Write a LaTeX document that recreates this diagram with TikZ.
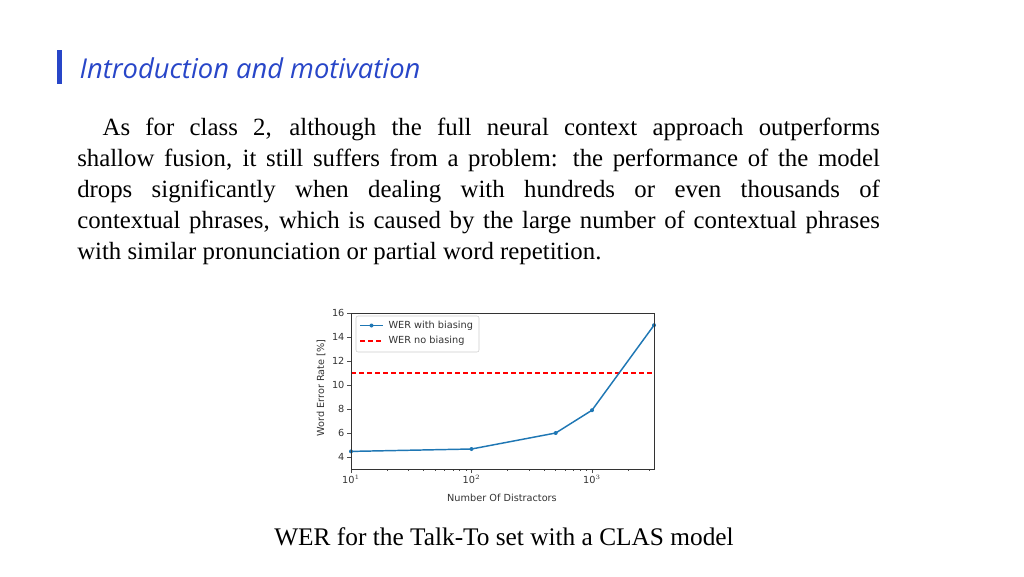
\documentclass[tikz,border=0pt]{standalone}
\usepackage{fontspec}
\setmainfont{Liberation Serif}
\newfontfamily\plotfont{DejaVu Sans}
\newfontfamily\headfont{Open Sans}
\definecolor{headblue}{RGB}{40,70,200}
\definecolor{mplblue}{RGB}{31,119,180}
\begin{document}
\begin{tikzpicture}[x=0.75pt,y=-0.75pt]
\tikzstyle{tick} = [black!70, line width=0.5pt]
\tikzstyle{ticklabel} = [font=\plotfont\fontsize{7.3}{8}\selectfont, text=black!80, inner sep=1pt]
\tikzstyle{curve} = [mplblue, line width=1.1pt]
\tikzstyle{nobias} = [red, dash pattern=on 4pt off 2pt, line width=1.1pt]
\useasboundingbox (0,0) rectangle (1024,576);
% heading
\fill[headblue] (57,50) rectangle (62,84);
\node[anchor=west, text=headblue, font=\headfont\itshape\fontsize{20.5}{22}\selectfont] (head) at (75,68) {Introduction and motivation};
% paragraph
\node[anchor=north west, text width=602pt, align=justify, inner sep=0pt,
  font=\fontsize{18.6}{23.2}\selectfont] (para) at (77,118)
 {\hspace*{19pt}As for class 2, although the full neural context approach outperforms\linebreak
 shallow fusion, it still suffers from a problem: the performance of the model\linebreak
 drops significantly when dealing with hundreds or even thousands of\linebreak
 contextual phrases, which is caused by the large number of contextual phrases\linebreak
 with similar pronunciation or partial word repetition.};
% plot frame
\coordinate (ll) at (351,469);
\coordinate (ur) at (654,313);
% y ticks
\foreach \v in {4,6,...,16} {
  \draw[tick] (351,{469-12*(\v-3)}) -- (347,{469-12*(\v-3)});
  \node[ticklabel, anchor=east] (y\v) at (346,{469-12*(\v-3)}) {\v};
}
% x ticks
\foreach \e/\px in {1/351,2/471.5,3/592} {
  \draw[tick] (\px,469) -- (\px,473);
  \node[ticklabel, anchor=north] (x\e) at (\px,474) {10$^{\e}$};
}
\foreach \d in {1,2} \foreach \m in {2,...,9}
  \draw[tick] ({351+120.5*(\d-1)+120.5*log10(\m)},469) -- ++(0,2);
\foreach \m in {2,3}
  \draw[tick] ({592+120.5*log10(\m)},469) -- ++(0,2);
\node[ticklabel, rotate=90] (ylab) at (321,388) {Word Error Rate [\%]};
\node[ticklabel] (xlab) at (502,498) {Number Of Distractors};
% no biasing
\draw[nobias] (351,373) -- (654,373);
% with biasing
\draw[curve] (351,451.4) -- (471.5,449) -- (555.7,433) -- (592,410.2) -- (654,325.2);
\foreach \px/\py in {351/451.4,471.5/449,555.7/433,592/410.2,654/325.2}
  \fill[mplblue] (\px,\py) circle (2);
\draw[black!80, line width=0.5pt] (ll) rectangle (ur);
% legend
\draw[black!20, fill=white, rounded corners=1.5pt] (356,316) rectangle (479,352);
\draw[curve] (360,325.5) -- (383,325.5);
\fill[mplblue] (371.5,325.5) circle (2);
\node[ticklabel, anchor=west] (leg1) at (387,325.5) {WER with biasing};
\draw[nobias] (360,341) -- (383,341);
\node[ticklabel, anchor=west] (leg2) at (387,341) {WER no biasing};
% caption
\node[font=\fontsize{19}{21}\selectfont] (cap) at (504,537) {WER for the Talk-To set with a CLAS model};
\end{tikzpicture}
\end{document}
